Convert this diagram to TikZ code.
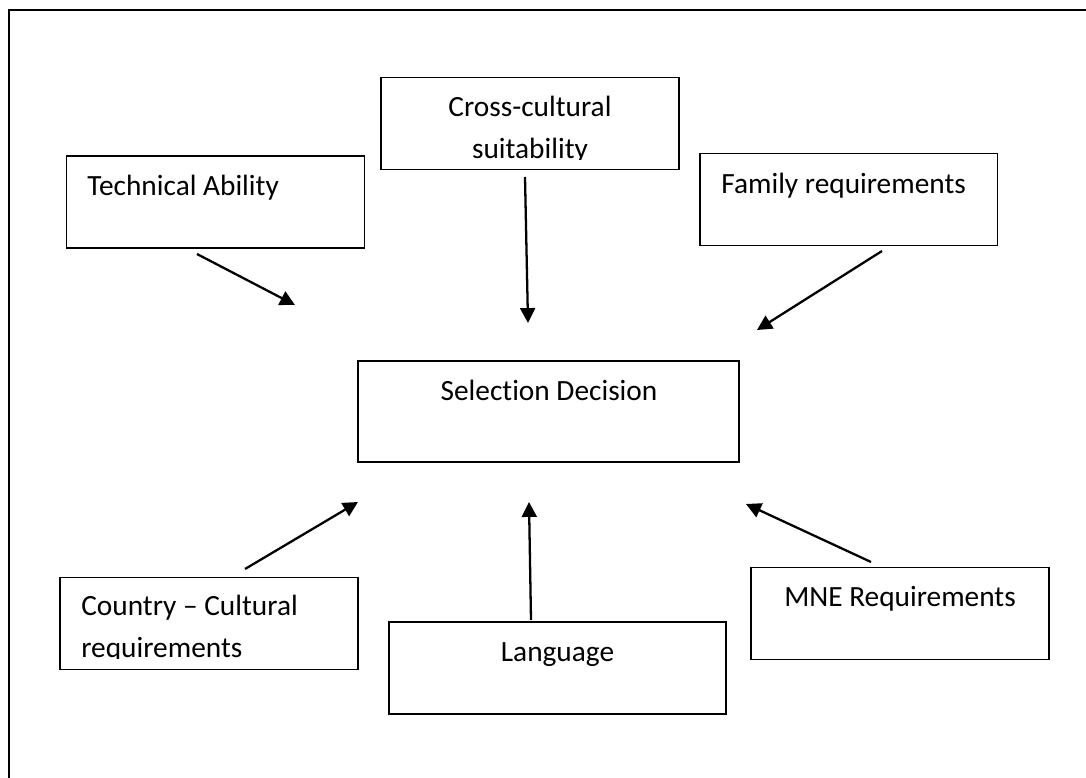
\documentclass[tikz,border=0pt]{standalone}
\usepackage{fontspec}
\setmainfont{Carlito}[Ligatures=NoCommon]
\usetikzlibrary{arrows.meta}
\tikzset{
    box/.style={draw, line width=1.1pt, inner sep=0pt, minimum width=5.96cm, minimum height=1.84cm},
    lbl/.style={inner sep=0pt, font=\fontsize{16.7}{23.6}\selectfont},
    arr/.style={-{Triangle[length=8.5pt,width=8.5pt]}, line width=1.3pt}
}
\begin{document}
\begin{tikzpicture}[x=0.02cm, y=-0.02cm]
            \useasboundingbox (0,0) rectangle (1086,778);
            \draw[line width=1.7pt] (9,800) -- (9,10) -- (1100,10); % page frame
            % Boxes
            \node[box] (tech) at (215.5,202) {};
            \node[box] (cross) at (530,123.5) {};
            \node[box] (family) at (848.5,199.5) {};
            \node[box, minimum width=7.62cm, minimum height=2.02cm] (select) at (548.5,411.5) {};
            \node[box] (country) at (209,623.5) {};
            \node[box, minimum width=6.74cm] (lang) at (557.5,668) {};
            \node[box] (mne) at (900,613.5) {};
            % Labels
            \node[lbl, anchor=base west] (techtext) at (87,195) {Technical Ability};
            \begin{scope}
            \clip (381,78) rectangle (679,159); % text runs past the margin
            \node[lbl, anchor=base, align=center] (crosstext) at (530,158) {Cross-cultural\\suitability};
            \end{scope}
            \node[lbl, anchor=base west] (familytext) at (721,193) {Family requirements};
            \node[lbl, anchor=base] (selecttext) at (549,400) {Selection Decision};
            \begin{scope}
            \clip (60,578) rectangle (358,658);
            \node[lbl, anchor=base west, align=left] (countrytext) at (81,657) {Country -- Cultural\\requirements};
            \end{scope}
            \node[lbl, anchor=base] (langtext) at (557.5,661) {Language};
            \node[lbl, anchor=base] (mnetext) at (900,606) {MNE Requirements};
            % Arrow ends
            \coordinate (techout) at (197,254);
            \coordinate (techin) at (295,305);
            \coordinate (crossout) at (525,177);
            \coordinate (crossin) at (528,323);
            \coordinate (familyout) at (882,251);
            \coordinate (familyin) at (757,330);
            \coordinate (countryout) at (245,569);
            \coordinate (countryin) at (358,502);
            \coordinate (langout) at (531,620);
            \coordinate (langin) at (529,502);
            \coordinate (mneout) at (871,562);
            \coordinate (mnein) at (746,504);
            \draw[arr] (techout) -- (techin);
            \draw[arr] (crossout) -- (crossin);
            \draw[arr] (familyout) -- (familyin);
            \draw[arr] (countryout) -- (countryin);
            \draw[arr] (langout) -- (langin);
            \draw[arr] (mneout) -- (mnein);
\end{tikzpicture}
\end{document}
